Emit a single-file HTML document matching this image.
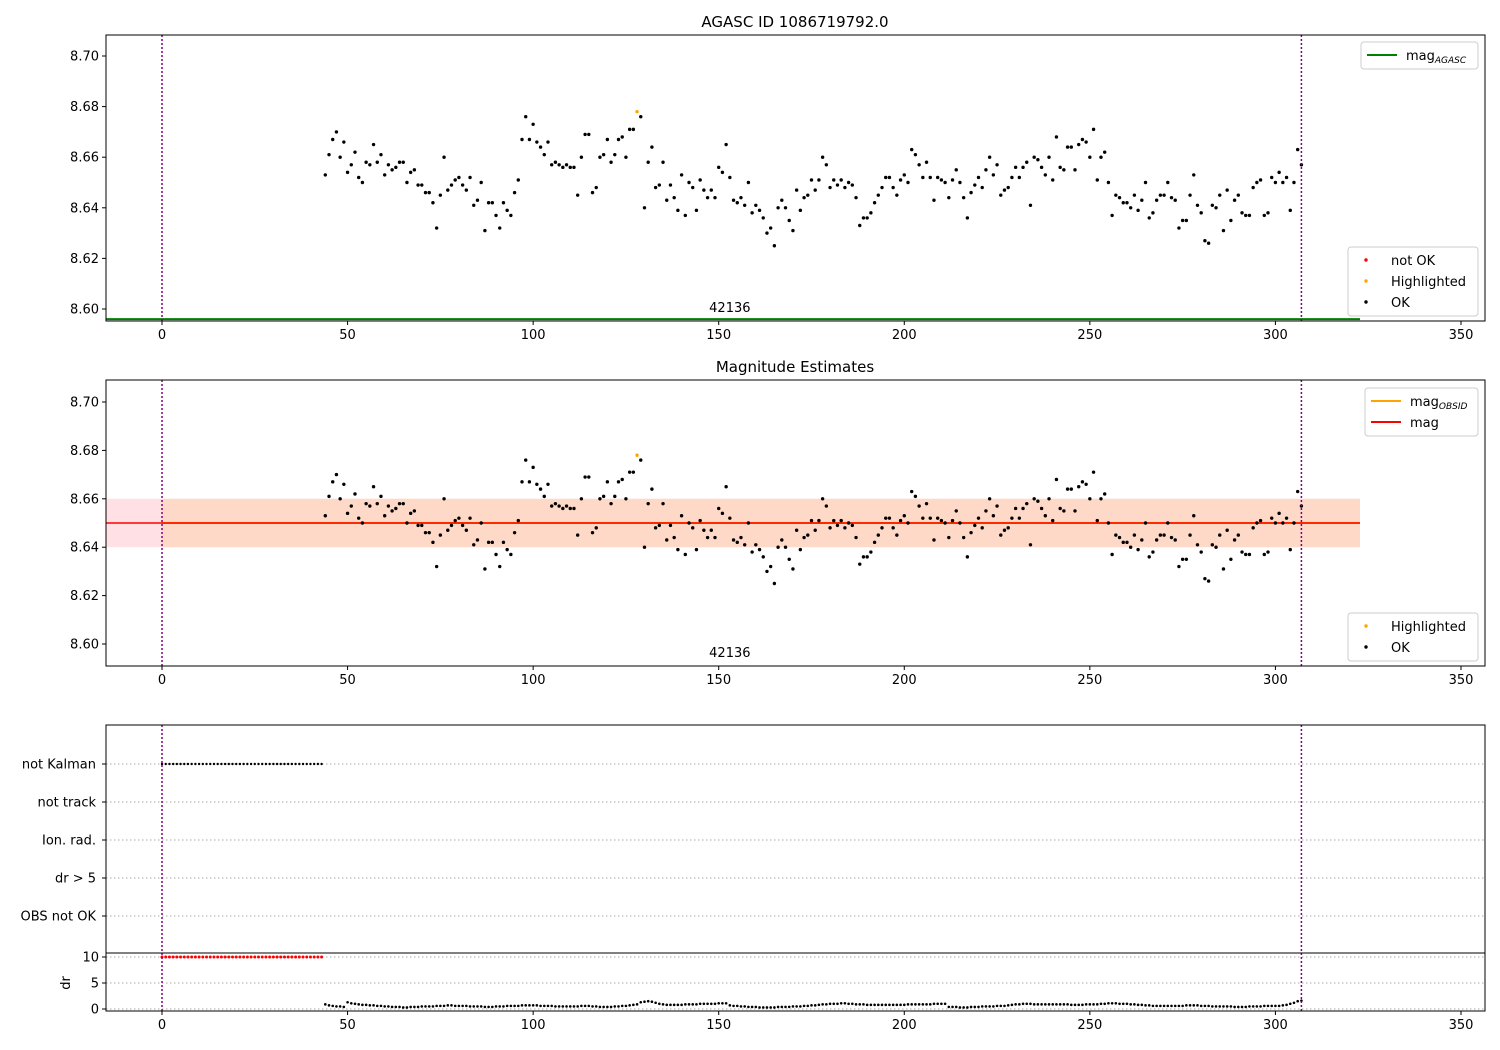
<!DOCTYPE html>
<html><head><meta charset="utf-8"><style>
body{margin:0;background:#fff;}
svg{display:block;font-family:"DejaVu Sans","Liberation Sans",sans-serif;}
</style></head><body>
<svg id="chart" width="1500" height="1050" viewBox="0 0 1500 1050" xmlns="http://www.w3.org/2000/svg"></svg>
<script>
const startX = 44;
const mags = [8.653,8.661,8.667,8.670,8.660,8.666,8.654,8.657,8.662,8.652,8.650,8.658,8.657,8.665,8.658,8.661,8.653,8.657,8.655,8.656,8.658,8.658,8.650,8.654,8.655,8.649,8.649,8.646,8.646,8.642,8.632,8.645,8.660,8.647,8.649,8.651,8.652,8.649,8.647,8.652,8.641,8.643,8.650,8.631,8.642,8.642,8.637,8.632,8.642,8.639,8.637,8.646,8.651,8.667,8.676,8.667,8.673,8.666,8.664,8.661,8.666,8.657,8.658,8.657,8.656,8.657,8.656,8.656,8.645,8.660,8.669,8.669,8.646,8.648,8.660,8.661,8.667,8.658,8.661,8.667,8.668,8.660,8.671,8.671,8.678,8.676,8.640,8.658,8.664,8.648,8.649,8.658,8.643,8.649,8.644,8.639,8.653,8.637,8.650,8.648,8.639,8.651,8.647,8.644,8.647,8.644,8.656,8.654,8.665,8.652,8.643,8.642,8.644,8.641,8.650,8.638,8.641,8.639,8.636,8.630,8.632,8.625,8.640,8.643,8.640,8.635,8.631,8.647,8.639,8.644,8.645,8.651,8.647,8.651,8.660,8.657,8.648,8.651,8.649,8.651,8.648,8.650,8.649,8.644,8.633,8.636,8.636,8.638,8.642,8.645,8.648,8.652,8.652,8.648,8.645,8.651,8.653,8.650,8.663,8.661,8.657,8.652,8.658,8.652,8.643,8.652,8.651,8.650,8.644,8.651,8.655,8.650,8.644,8.636,8.646,8.649,8.652,8.648,8.655,8.660,8.653,8.657,8.645,8.647,8.648,8.652,8.656,8.652,8.656,8.658,8.641,8.660,8.659,8.656,8.653,8.660,8.651,8.668,8.656,8.655,8.664,8.664,8.655,8.665,8.667,8.666,8.660,8.671,8.651,8.660,8.662,8.650,8.637,8.645,8.644,8.642,8.642,8.640,8.645,8.639,8.643,8.650,8.636,8.638,8.643,8.645,8.645,8.650,8.644,8.643,8.632,8.635,8.635,8.645,8.653,8.641,8.638,8.627,8.626,8.641,8.640,8.645,8.631,8.647,8.635,8.643,8.645,8.638,8.637,8.637,8.648,8.650,8.651,8.637,8.638,8.652,8.650,8.654,8.650,8.652,8.639,8.650,8.663,8.657];
const highlightedX = [128];
const drVals = [0.9,0.7,0.6,0.5,0.5,0.4,1.3,1.1,1.0,0.9,0.8,0.8,0.7,0.7,0.6,0.6,0.5,0.5,0.4,0.4,0.4,0.3,0.3,0.4,0.4,0.4,0.5,0.5,0.5,0.5,0.6,0.6,0.6,0.7,0.7,0.6,0.6,0.6,0.6,0.5,0.5,0.5,0.5,0.4,0.4,0.4,0.5,0.5,0.5,0.6,0.6,0.6,0.6,0.7,0.7,0.7,0.7,0.7,0.6,0.6,0.6,0.6,0.5,0.5,0.5,0.5,0.5,0.5,0.5,0.6,0.6,0.6,0.5,0.5,0.4,0.4,0.4,0.4,0.5,0.5,0.6,0.6,0.7,0.8,0.9,1.3,1.4,1.5,1.4,1.2,1.0,0.9,0.8,0.8,0.8,0.8,0.8,0.9,0.9,0.9,0.9,1.0,1.0,1.0,1.0,1.0,1.1,1.1,1.1,0.7,0.6,0.6,0.5,0.5,0.4,0.4,0.4,0.3,0.3,0.3,0.3,0.3,0.4,0.4,0.4,0.4,0.5,0.5,0.5,0.6,0.6,0.7,0.7,0.8,0.9,0.9,1.0,1.0,1.0,1.1,1.1,1.0,1.0,0.9,0.9,0.9,0.8,0.8,0.8,0.8,0.8,0.8,0.8,0.8,0.8,0.8,0.8,0.9,0.9,0.9,0.9,0.9,0.9,0.9,1.0,1.0,1.0,1.0,0.4,0.4,0.4,0.3,0.3,0.3,0.4,0.4,0.4,0.5,0.5,0.5,0.5,0.6,0.6,0.6,0.7,0.8,0.9,0.9,1.0,1.0,1.0,0.9,0.9,0.9,0.9,0.9,0.9,0.9,0.9,0.9,0.9,0.8,0.8,0.8,0.8,0.9,0.9,0.9,0.9,1.0,1.0,1.1,1.1,1.1,1.0,1.0,1.0,0.9,0.9,0.8,0.8,0.7,0.7,0.6,0.6,0.6,0.6,0.6,0.6,0.6,0.6,0.6,0.7,0.7,0.7,0.7,0.6,0.6,0.6,0.5,0.5,0.5,0.5,0.5,0.5,0.4,0.4,0.4,0.4,0.5,0.5,0.5,0.5,0.6,0.6,0.6,0.6,0.6,0.7,0.8,1.0,1.2,1.5,1.6];
const notKalmanX = [0,43];
const xTicks = [0,50,100,150,200,250,300,350];
const magTicks = [8.60,8.62,8.64,8.66,8.68,8.70];
const catLabels = ["not Kalman","not track","Ion. rad.","dr > 5","OBS not OK"];
const drTicks = [0,5,10];
const magAgasc = 8.596, magObsid = 8.650, magMean = 8.650, magLow = 8.640, magHigh = 8.660;

const svg = document.getElementById('chart');
const NS = 'http://www.w3.org/2000/svg';
function el(tag, attrs, parent, text){const e=document.createElementNS(NS,tag);for(const k in attrs)e.setAttribute(k,attrs[k]);if(text!==undefined)e.textContent=text;(parent||svg).appendChild(e);return e;}
const X = v => 162 + v*3.7114;
const Y1 = v => 56 + (8.70 - v)*2530;
const Y2 = v => 402 + (8.70 - v)*2420;
const Yc = i => 764 + i*38;
const Yd = v => 1009 - v*5.2;
const L=106,R=1485;

let t=el('text',{x:795,y:27,'text-anchor':'middle','font-size':15},svg,'AGASC ID 1086719792.0');

t=el('text',{x:795,y:372,'text-anchor':'middle','font-size':15},svg,'Magnitude Estimates');


function xAxis(bottom, name){
  const g=el('g',{});
  
  xTicks.forEach(v=>{el('line',{x1:X(v),x2:X(v),y1:bottom,y2:bottom+4,stroke:'#000'},g);el('text',{x:X(v),y:bottom+18,'text-anchor':'middle','font-size':13},g,String(v));});
}
function magAxis(top,bottom,Y,name){
  const g=el('g',{});
  
  magTicks.forEach(v=>{const y=Y(v);if(y<top||y>bottom)return;el('line',{x1:L-4,x2:L,y1:y,y2:y,stroke:'#000'},g);el('text',{x:L-7,y:y+4.5,'text-anchor':'end','font-size':13},g,v.toFixed(2));});
}
function dots(Y,g){
  mags.forEach((m,i)=>{const x=startX+i;const hl=highlightedX.includes(x);
    const c=el('circle',{cx:X(x),cy:Y(m),r:1.7,fill:hl?'orange':'#000'},g);
    
    });
}
function legend(x,y,w,entries,name,isLine){
  const g=el('g',{});
  
  el('rect',{x:x,y:y,width:w,height:entries.length*21+6,rx:3,fill:'#fff','fill-opacity':0.8,stroke:'#ccc'},g);
  entries.forEach((e,i)=>{const yy=y+13+i*21;
    if(isLine) el('line',{x1:x+6,x2:x+36,y1:yy,y2:yy,stroke:e[1],'stroke-width':2},g);
    else el('circle',{cx:x+18,cy:yy,r:1.7,fill:e[1]},g);
    const tx=el('text',{x:x+(isLine?45:43),y:yy+5,'font-size':13},g);
    tx.textContent=e[0];
    if(e[2]){el('tspan',{'font-size':9,'font-style':'italic',dy:3},tx,e[2]);}
  });
}

const p1=el('g',{});
let ln=el('line',{x1:L,x2:1360,y1:Y1(magAgasc),y2:Y1(magAgasc),stroke:'green','stroke-width':2},p1);

dots(Y1,p1);
el('text',{x:X(153),y:312,'text-anchor':'middle','font-size':13},p1,'42136');
[0,307].forEach(v=>el('line',{x1:X(v),x2:X(v),y1:35,y2:321,stroke:'purple','stroke-width':1.5,'stroke-dasharray':'2,2'},p1));
el('rect',{x:L,y:35,width:R-L,height:286,fill:'none',stroke:'#000'},p1);
magAxis(35,321,Y1,'agasc-y-axis');xAxis(321,'agasc-x-axis');
legend(1361,42,117,[['mag','green','AGASC']],'agasc-legend',true);
legend(1348,247,130,[['not OK','red'],['Highlighted','orange'],['OK','#000']],'agasc-points-legend',false);

const p2=el('g',{});
let b=el('rect',{x:L,y:Y2(magHigh),width:1360-L,height:Y2(magLow)-Y2(magHigh),fill:'#ffe0e4'},p2);

b=el('rect',{x:X(0),y:Y2(magHigh),width:1360-X(0),height:Y2(magLow)-Y2(magHigh),fill:'#ffd9c8'},p2);

ln=el('line',{x1:X(0),x2:1360,y1:Y2(magObsid),y2:Y2(magObsid),stroke:'orange','stroke-width':2},p2);

ln=el('line',{x1:L,x2:1360,y1:Y2(magMean),y2:Y2(magMean),stroke:'red','stroke-width':1.5},p2);

dots(Y2,p2);
el('text',{x:X(153),y:657,'text-anchor':'middle','font-size':13},p2,'42136');
[0,307].forEach(v=>el('line',{x1:X(v),x2:X(v),y1:380,y2:666,stroke:'purple','stroke-width':1.5,'stroke-dasharray':'2,2'},p2));
el('rect',{x:L,y:380,width:R-L,height:286,fill:'none',stroke:'#000'},p2);
magAxis(380,666,Y2,'estimates-y-axis');xAxis(666,'estimates-x-axis');
legend(1365,388,113,[['mag','orange','OBSID'],['mag','red']],'estimates-legend',true);
legend(1348,613,130,[['Highlighted','orange'],['OK','#000']],'estimates-points-legend',false);

const p3=el('g',{});
catLabels.forEach((c,i)=>{const y=Yc(i);
  el('line',{x1:L,x2:R,y1:y,y2:y,stroke:'#aaa','stroke-dasharray':'1.5,2.5'},p3);
  el('line',{x1:L-4,x2:L,y1:y,y2:y,stroke:'#000'},p3);
  el('text',{x:L-10,y:y+4.5,'text-anchor':'end','font-size':13},p3,c);});
for(let x=notKalmanX[0];x<=notKalmanX[1];x++){const c=el('circle',{cx:X(x),cy:Yc(0),r:1.2,fill:'#000'},p3);
  }
drTicks.forEach(v=>{const y=Yd(v);
  el('line',{x1:L,x2:R,y1:y,y2:y,stroke:'#aaa','stroke-dasharray':'1.5,2.5'},p3);
  el('line',{x1:L-4,x2:L,y1:y,y2:y,stroke:'#000'},p3);
  el('text',{x:L-7,y:y+4.5,'text-anchor':'end','font-size':13},p3,String(v));});
el('text',{x:0,y:0,'font-size':13,'text-anchor':'middle',transform:'translate(70,983) rotate(-90)'},p3,'dr');
for(let x=notKalmanX[0];x<=notKalmanX[1];x++){const c=el('circle',{cx:X(x),cy:Yd(10),r:1.5,fill:'red'},p3);
  }
drVals.forEach((d,i)=>{const c=el('circle',{cx:X(startX+i),cy:Yd(d),r:1.3,fill:'#000'},p3);
  });
[0,307].forEach(v=>el('line',{x1:X(v),x2:X(v),y1:725,y2:1011,stroke:'purple','stroke-width':1.5,'stroke-dasharray':'2,2'},p3));
el('rect',{x:L,y:725,width:R-L,height:286,fill:'none',stroke:'#000'},p3);
el('line',{x1:L,x2:R,y1:953,y2:953,stroke:'#000'},p3);
xAxis(1011,'flags-x-axis');
</script>
</body></html>
